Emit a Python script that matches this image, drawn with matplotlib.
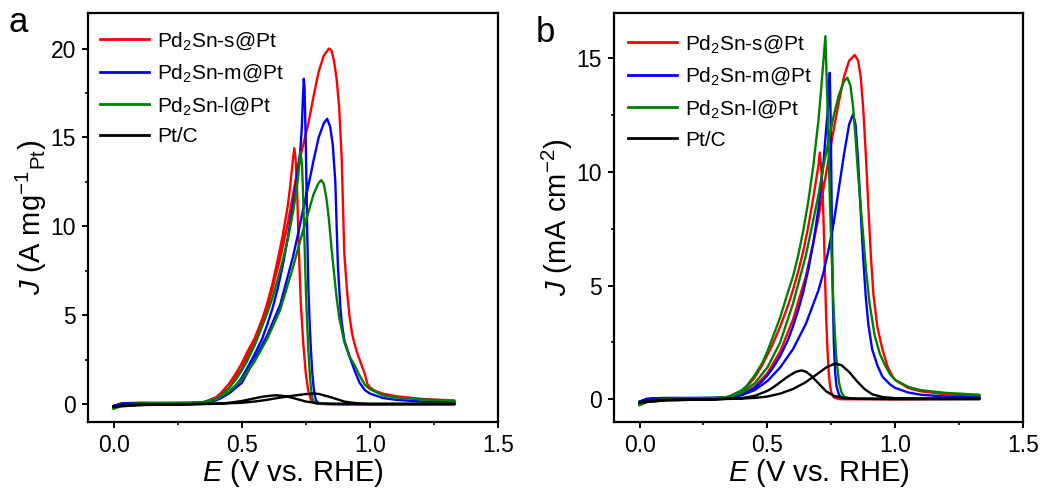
# ----------------------------------------------------------------------------------------------------------------------
#  IMPORT
# ----------------------------------------------------------------------------------------------------------------------
import matplotlib
matplotlib.use('Agg')
import matplotlib.pyplot as plt
from matplotlib.ticker import MultipleLocator, FormatStrFormatter

# ----------------------------------------------------------------------------------------------------------------------
#  DATA  (E in V vs. RHE)
# ----------------------------------------------------------------------------------------------------------------------
labels = ['Pd$_2$Sn-s@Pt', 'Pd$_2$Sn-m@Pt', 'Pd$_2$Sn-l@Pt', 'Pt/C']

# panel a : mass activity (A mg-1 Pt)
a_s_fwd_E = [0.00, 0.03, 0.10, 0.20, 0.30, 0.35, 0.40, 0.45, 0.50, 0.55, 0.60, 0.65, 0.68, 0.70, 0.72, 0.74, 0.76, 0.78,
             0.80, 0.82, 0.84, 0.85, 0.86, 0.87, 0.88, 0.89, 0.90, 0.91, 0.92, 0.93, 0.94, 0.95, 0.96, 0.97, 0.98, 0.99,
             1.00, 1.02, 1.05, 1.10, 1.20, 1.33]
a_s_fwd_J = [-0.15, 0.00, 0.03, 0.04, 0.06, 0.10, 0.30, 0.90, 2.0, 3.5, 5.4, 8.2, 10.2, 11.8, 13.4, 14.6, 15.8, 17.3,
             18.7, 19.6, 20.0, 19.9, 19.3, 18.3, 16.7, 13.8, 8.5, 6.5, 5.0, 4.0, 3.4, 2.9, 2.5, 2.1, 1.7, 1.15,
             0.95, 0.75, 0.60, 0.45, 0.30, 0.20]
a_s_bwd_E = [1.33, 1.10, 0.90, 0.80, 0.78, 0.77, 0.76, 0.75, 0.74, 0.73, 0.725, 0.72, 0.715, 0.71, 0.705, 0.70, 0.69,
             0.68, 0.66, 0.64, 0.62, 0.60, 0.58, 0.55, 0.52, 0.50, 0.48, 0.45, 0.42, 0.40, 0.35, 0.30, 0.20, 0.10,
             0.03, 0.00]
a_s_bwd_J = [0.00, 0.00, 0.00, 0.02, 0.08, 0.25, 0.70, 1.7, 3.4, 5.8, 7.8, 10.0, 12.5, 13.8, 14.4, 13.8, 12.4,
             11.2, 9.5, 8.1, 6.8, 5.7, 4.8, 3.7, 2.9, 2.3, 1.8, 1.15, 0.65, 0.40, 0.10, 0.00, -0.02, -0.04,
             -0.08, -0.15]

a_m_fwd_E = [0.00, 0.03, 0.10, 0.20, 0.30, 0.35, 0.40, 0.45, 0.50, 0.55, 0.60, 0.65, 0.70, 0.72, 0.74, 0.76, 0.78, 0.80,
             0.82, 0.833, 0.845, 0.855, 0.865, 0.875, 0.885, 0.89, 0.90, 0.92, 0.94, 0.96, 0.98, 1.00, 1.05, 1.10, 1.20,
             1.33]
a_m_fwd_J = [-0.10, 0.05, 0.08, 0.08, 0.08, 0.10, 0.25, 0.60, 1.2, 2.5, 3.9, 5.6, 8.3, 9.6, 11.0, 12.3, 13.7, 15.0,
             15.8, 16.05, 15.6, 14.6, 12.5, 7.8, 5.4, 4.6, 3.6, 2.7, 1.9, 1.2, 0.80, 0.60, 0.35, 0.25, 0.15,
             0.10]
a_m_bwd_E = [1.33, 1.00, 0.85, 0.81, 0.80, 0.79, 0.785, 0.78, 0.775, 0.77, 0.765, 0.76, 0.755, 0.75, 0.745, 0.742,
             0.738, 0.734, 0.728, 0.72, 0.71, 0.70, 0.68, 0.66, 0.64, 0.62, 0.60, 0.58, 0.55, 0.52, 0.50, 0.48, 0.45,
             0.42, 0.40, 0.35, 0.30, 0.20, 0.10, 0.03, 0.00]
a_m_bwd_J = [0.00, 0.00, 0.00, 0.02, 0.06, 0.20, 0.50, 1.0, 1.8, 3.0, 4.5, 6.5, 10.0, 14.5, 17.8, 18.3,
             17.0, 15.5, 14.2, 13.3, 12.2, 11.2, 9.4, 7.8, 6.5, 5.4, 4.5, 3.7, 2.8, 2.0, 1.5, 1.1, 0.65,
             0.35, 0.22, 0.10, 0.06, 0.05, 0.04, 0.00, -0.10]

a_l_fwd_E = [0.00, 0.03, 0.10, 0.20, 0.30, 0.35, 0.40, 0.45, 0.50, 0.55, 0.60, 0.65, 0.70, 0.73, 0.76, 0.78, 0.80, 0.81,
             0.82, 0.83, 0.84, 0.85, 0.86, 0.87, 0.88, 0.90, 0.92, 0.94, 0.96, 0.98, 1.00, 1.05, 1.10, 1.20, 1.33]
a_l_fwd_J = [-0.25, -0.05, 0.05, 0.06, 0.08, 0.12, 0.30, 0.70, 1.4, 2.4, 3.7, 5.3, 7.7, 9.3, 10.8, 11.8, 12.45, 12.6,
             12.4, 11.6, 10.4, 8.8, 7.4, 6.0, 4.9, 3.5, 2.7, 2.2, 1.6, 1.1, 0.85, 0.50, 0.38, 0.27, 0.20]
a_l_bwd_E = [1.33, 1.10, 0.90, 0.80, 0.79, 0.78, 0.775, 0.77, 0.765, 0.76, 0.755, 0.75, 0.745, 0.74, 0.735, 0.729,
             0.725, 0.72, 0.71, 0.70, 0.68, 0.66, 0.64, 0.62, 0.60, 0.58, 0.55, 0.52, 0.50, 0.48, 0.45, 0.42, 0.40,
             0.35, 0.30, 0.20, 0.10, 0.03, 0.00]
a_l_bwd_J = [0.05, 0.03, 0.02, 0.03, 0.06, 0.15, 0.35, 0.90, 1.8, 3.0, 4.5, 6.5, 9.0, 11.5, 13.5, 14.2,
             13.6, 12.8, 11.7, 10.8, 9.3, 8.1, 7.0, 6.0, 5.15, 4.4, 3.3, 2.4, 1.9, 1.45, 0.90, 0.50, 0.30,
             0.10, 0.04, 0.00, -0.05, -0.10, -0.25]

a_pt_fwd_E = [0.00, 0.03, 0.10, 0.20, 0.30, 0.40, 0.50, 0.55, 0.60, 0.65, 0.70, 0.75, 0.78, 0.80, 0.85, 0.90, 0.95,
              1.00, 1.10, 1.33]
a_pt_fwd_J = [-0.15, -0.05, -0.02, 0.00, 0.00, 0.02, 0.08, 0.15, 0.25, 0.37, 0.48, 0.57, 0.60, 0.58, 0.38, 0.15, 0.05,
              0.02, 0.02, 0.03]
a_pt_bwd_E = [1.33, 1.00, 0.85, 0.80, 0.75, 0.70, 0.67, 0.64, 0.62, 0.58, 0.55, 0.50, 0.45, 0.40, 0.30, 0.10, 0.00]
a_pt_bwd_J = [0.00, 0.00, 0.02, 0.05, 0.15, 0.35, 0.45, 0.50, 0.49, 0.42, 0.33, 0.18, 0.08, 0.03, 0.00, -0.05, -0.15]

# panel b : specific activity (mA cm-2)
b_s_fwd_E = [0.00, 0.03, 0.10, 0.20, 0.30, 0.35, 0.40, 0.45, 0.50, 0.55, 0.60, 0.65, 0.68, 0.70, 0.72, 0.74, 0.76, 0.78,
             0.80, 0.82, 0.842, 0.855, 0.865, 0.875, 0.885, 0.895, 0.905, 0.915, 0.93, 0.95, 0.97, 0.99, 1.00, 1.05,
             1.10, 1.20, 1.33]
b_s_fwd_J = [-0.15, 0.00, 0.03, 0.03, 0.05, 0.08, 0.22, 0.55, 1.15, 2.1, 3.5, 5.4, 6.9, 8.0, 9.3, 10.6, 11.9, 13.1,
             14.2, 14.9, 15.15, 14.9, 14.2, 12.8, 10.8, 8.5, 6.3, 4.6, 3.2, 2.2, 1.45, 1.0, 0.85, 0.50,
             0.35, 0.22, 0.15]
b_s_bwd_E = [1.33, 1.00, 0.80, 0.78, 0.76, 0.75, 0.745, 0.74, 0.735, 0.73, 0.726, 0.722, 0.718, 0.712, 0.705, 0.70,
             0.69, 0.68, 0.66, 0.64, 0.62, 0.60, 0.58, 0.55, 0.52, 0.50, 0.48, 0.45, 0.42, 0.40, 0.35, 0.30, 0.20,
             0.10, 0.03, 0.00]
b_s_bwd_J = [0.02, 0.00, 0.00, 0.01, 0.08, 0.30, 0.60, 1.2, 2.2, 3.6, 5.2, 7.0, 8.5, 10.0, 10.86, 10.3,
             9.6, 8.9, 7.6, 6.5, 5.6, 4.8, 4.1, 3.2, 2.4, 1.95, 1.5, 0.95, 0.55, 0.35, 0.10, 0.02, -0.01,
             -0.04, -0.08, -0.15]

b_m_fwd_E = [0.00, 0.03, 0.10, 0.20, 0.30, 0.35, 0.40, 0.45, 0.50, 0.55, 0.60, 0.65, 0.70, 0.72, 0.74, 0.76, 0.78, 0.80,
             0.82, 0.835, 0.845, 0.855, 0.865, 0.875, 0.885, 0.895, 0.91, 0.93, 0.95, 0.98, 1.00, 1.05, 1.10, 1.20, 1.33]
b_m_fwd_J = [-0.10, 0.03, 0.06, 0.06, 0.07, 0.10, 0.18, 0.40, 0.80, 1.4, 2.2, 3.3, 4.8, 5.6, 6.6, 7.8, 9.3, 10.8,
             12.1, 12.54, 12.1, 10.5, 8.3, 6.2, 4.5, 3.3, 2.2, 1.5, 1.0, 0.65, 0.50, 0.30, 0.20, 0.12, 0.10]
b_m_bwd_E = [1.33, 1.00, 0.80, 0.79, 0.78, 0.77, 0.765, 0.76, 0.756, 0.752, 0.748, 0.744, 0.738, 0.73, 0.72, 0.70,
             0.68, 0.66, 0.64, 0.62, 0.60, 0.58, 0.55, 0.52, 0.50, 0.48, 0.45, 0.42, 0.40, 0.35, 0.30, 0.20, 0.10,
             0.03, 0.00]
b_m_bwd_J = [0.02, 0.02, 0.03, 0.07, 0.20, 0.60, 1.2, 2.5, 4.5, 8.0, 12.0, 14.37, 13.0, 11.9, 10.5, 8.4,
             6.9, 5.7, 4.7, 3.9, 3.2, 2.6, 1.9, 1.35, 1.05, 0.80, 0.50, 0.30, 0.20, 0.08, 0.05, 0.05, 0.04,
             0.00, -0.12]

b_l_fwd_E = [0.00, 0.03, 0.10, 0.20, 0.30, 0.35, 0.40, 0.45, 0.50, 0.55, 0.60, 0.65, 0.68, 0.70, 0.72, 0.74, 0.76, 0.78,
             0.80, 0.813, 0.825, 0.835, 0.845, 0.855, 0.865, 0.875, 0.885, 0.90, 0.92, 0.94, 0.96, 0.98, 1.00, 1.05,
             1.10, 1.20, 1.33]
b_l_fwd_J = [-0.25, -0.08, 0.02, 0.04, 0.06, 0.10, 0.28, 0.70, 1.4, 2.5, 4.2, 6.3, 7.9, 9.0, 10.3, 11.4, 12.5, 13.4,
             14.0, 14.15, 13.8, 12.9, 11.5, 9.9, 8.5, 7.2, 5.8, 4.2, 2.8, 2.0, 1.5, 1.1, 0.85, 0.55,
             0.40, 0.28, 0.20]
b_l_bwd_E = [1.33, 1.00, 0.90, 0.82, 0.80, 0.79, 0.78, 0.77, 0.765, 0.76, 0.755, 0.75, 0.745, 0.74, 0.735, 0.727,
             0.72, 0.71, 0.70, 0.68, 0.66, 0.64, 0.62, 0.60, 0.58, 0.55, 0.52, 0.50, 0.48, 0.45, 0.42, 0.40, 0.35,
             0.30, 0.20, 0.10, 0.03, 0.00]
b_l_bwd_J = [0.05, 0.03, 0.03, 0.05, 0.12, 0.30, 0.75, 1.8, 2.7, 3.8, 5.2, 6.8, 8.6, 10.8, 13.0, 15.98,
             15.0, 13.6, 12.3, 10.3, 8.7, 7.4, 6.3, 5.4, 4.7, 3.6, 2.7, 2.1, 1.6, 1.05, 0.60, 0.40, 0.12,
             0.02, -0.02, -0.05, -0.12, -0.25]

b_pt_fwd_E = [0.00, 0.03, 0.10, 0.20, 0.30, 0.40, 0.45, 0.50, 0.55, 0.60, 0.65, 0.70, 0.73, 0.764, 0.79, 0.82, 0.85,
              0.88, 0.91, 0.95, 1.00, 1.10, 1.33]
b_pt_fwd_J = [-0.15, -0.05, -0.02, 0.00, 0.00, 0.03, 0.06, 0.12, 0.25, 0.45, 0.75, 1.15, 1.40, 1.57, 1.50, 1.20, 0.80,
              0.45, 0.22, 0.10, 0.05, 0.03, 0.05]
b_pt_bwd_E = [1.33, 1.00, 0.85, 0.80, 0.76, 0.73, 0.70, 0.67, 0.65, 0.633, 0.61, 0.58, 0.55, 0.52, 0.50, 0.45, 0.40,
              0.30, 0.10, 0.00]
b_pt_bwd_J = [0.00, 0.00, 0.02, 0.06, 0.15, 0.35, 0.70, 1.05, 1.22, 1.27, 1.20, 1.00, 0.75, 0.50, 0.37, 0.15, 0.05,
              0.00, -0.05, -0.15]

line_colors = ['#ff0000', '#0000ff', '#008000', '#000000']

# ----------------------------------------------------------------------------------------------------------------------
#  STYLE
# ----------------------------------------------------------------------------------------------------------------------
plt.rcParams['font.family'] = ['Liberation Sans', 'DejaVu Sans']
plt.rcParams['mathtext.fontset'] = 'custom'
plt.rcParams['mathtext.rm'] = 'Liberation Sans'
plt.rcParams['mathtext.it'] = 'Liberation Sans:italic'
plt.rcParams['axes.linewidth'] = 1.6


def style_axis(ax, ymax, ylabel):
    ax.set_xlim(-0.1, 1.5)
    ax.set_ylim(-1, ymax)
    ax.xaxis.set_major_locator(MultipleLocator(0.5))
    ax.xaxis.set_minor_locator(MultipleLocator(0.25))
    ax.xaxis.set_major_formatter(FormatStrFormatter('%.1f'))
    ax.yaxis.set_major_locator(MultipleLocator(5))
    ax.yaxis.set_minor_locator(MultipleLocator(2.5))
    ax.tick_params(which='major', direction='out', length=4.5, width=1.4, labelsize=16.5, pad=4)
    ax.tick_params(which='minor', direction='out', length=2.5, width=1.2)
    ax.set_xlabel(r'$E$ (V vs. RHE)', fontsize=21, labelpad=0)
    ax.set_ylabel(ylabel, fontsize=21, labelpad=1)


def plot_panel(ax, curves, anchor):
    for (fE, fJ, bE, bJ), color, label in zip(curves, line_colors, labels):
        ax.plot(fE + bE, fJ + bJ, color=color, linewidth=1.7, label=label)
    leg = ax.legend(loc='upper left', bbox_to_anchor=anchor, frameon=False, fontsize=15,
                    handlelength=2.35, handletextpad=0.38, labelspacing=0.52,
                    borderaxespad=0.0, borderpad=0.0)
    for line in leg.get_lines():
        line.set_linewidth(2.0)


# ----------------------------------------------------------------------------------------------------------------------
#  FIGURE
# ----------------------------------------------------------------------------------------------------------------------
fig = plt.figure(figsize=(10.43, 4.90), dpi=100)
axis_a = fig.add_axes([0.0844, 0.1388, 0.3931, 0.8347])
axis_b = fig.add_axes([0.5887, 0.1388, 0.3921, 0.8347])

plot_panel(axis_a, [(a_s_fwd_E, a_s_fwd_J, a_s_bwd_E, a_s_bwd_J),
                    (a_m_fwd_E, a_m_fwd_J, a_m_bwd_E, a_m_bwd_J),
                    (a_l_fwd_E, a_l_fwd_J, a_l_bwd_E, a_l_bwd_J),
                    (a_pt_fwd_E, a_pt_fwd_J, a_pt_bwd_E, a_pt_bwd_J)], (0.029, 0.958))
plot_panel(axis_b, [(b_s_fwd_E, b_s_fwd_J, b_s_bwd_E, b_s_bwd_J),
                    (b_m_fwd_E, b_m_fwd_J, b_m_bwd_E, b_m_bwd_J),
                    (b_l_fwd_E, b_l_fwd_J, b_l_bwd_E, b_l_bwd_J),
                    (b_pt_fwd_E, b_pt_fwd_J, b_pt_bwd_E, b_pt_bwd_J)], (0.034, 0.950))

style_axis(axis_a, 22, r'$J$ (A mg$^{-1}$$_{\mathrm{Pt}}$)')
style_axis(axis_b, 17, r'$J$ (mA cm$^{-2}$)')

fig.text(0.008, 0.935, 'a', fontsize=25)
fig.text(0.514, 0.915, 'b', fontsize=25)

fig.savefig('out.png', dpi=100)
